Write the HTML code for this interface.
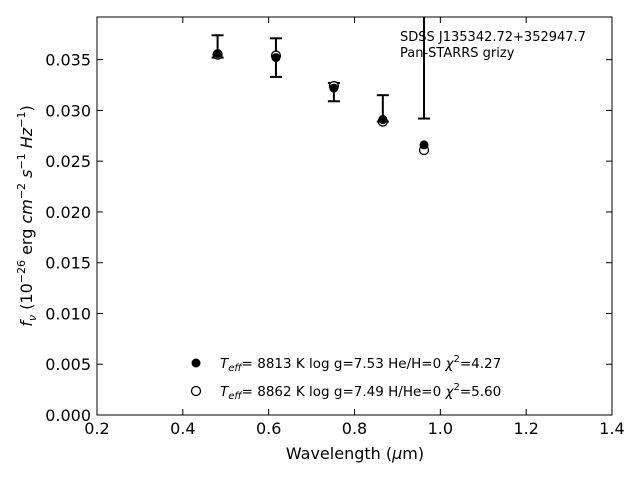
<!DOCTYPE html>
<html><head><meta charset="utf-8"><style>
body{margin:0;background:#fff}
svg{font-family:"DejaVu Sans","Liberation Sans",sans-serif}
</style></head><body>
<svg width="640" height="480" xmlns="http://www.w3.org/2000/svg">
<defs><clipPath id="pc"><rect x="97" y="17" width="515" height="398"/></clipPath></defs>
<rect x="97" y="17" width="515" height="398" fill="none" stroke="#000" stroke-width="1"/>
<g id="axes"></g>
<g id="marks" clip-path="url(#pc)"></g>
<text x="400" y="41" font-size="13">SDSS J135342.72+352947.7</text>
<text x="400" y="57" font-size="13">Pan-STARRS grizy</text>
<circle cx="196" cy="363" r="4.5" fill="#000"/>
<text x="220" y="368" font-size="13.5"><tspan font-style="italic">T</tspan><tspan font-style="italic" font-size="10" dy="3">eff</tspan><tspan dy="-3">=  8813 K  log g=7.53  He/H=0  </tspan><tspan font-style="italic">χ</tspan><tspan font-size="10" dy="-6">2</tspan><tspan dy="6">=4.27</tspan></text>
<circle cx="196" cy="391" r="4.5" fill="#fff" stroke="#000" stroke-width="1.3"/>
<text x="220" y="396" font-size="13.5"><tspan font-style="italic">T</tspan><tspan font-style="italic" font-size="10" dy="3">eff</tspan><tspan dy="-3">=  8862 K  log g=7.49  H/He=0  </tspan><tspan font-style="italic">χ</tspan><tspan font-size="10" dy="-6">2</tspan><tspan dy="6">=5.60</tspan></text>
<text x="355" y="459" font-size="16" text-anchor="middle">Wavelength (<tspan font-style="italic">μ</tspan>m)</text>
<text transform="translate(32,216) rotate(-90)" font-size="16" text-anchor="middle"><tspan font-style="italic">f</tspan><tspan font-style="italic" font-size="11" dy="4">ν</tspan><tspan dy="-4"> (10</tspan><tspan font-size="11" dy="-7">−26</tspan><tspan dy="7"> erg </tspan><tspan font-style="italic">cm</tspan><tspan font-size="11" dy="-7">−2</tspan><tspan dy="7"> </tspan><tspan font-style="italic">s</tspan><tspan font-size="11" dy="-7">−1</tspan><tspan dy="7"> </tspan><tspan font-style="italic">Hz</tspan><tspan font-size="11" dy="-7">−1</tspan><tspan dy="7">)</tspan></text>
</svg>
<script>
const wavelengths=[0.481,0.617,0.752,0.866,0.962];
const obsFlux=[0.0363,0.0352,0.0318,0.0302,0.0400];
const obsErr=[0.0011,0.0019,0.0009,0.0013,0.0108];
const modelHeH=[0.0356,0.0352,0.0322,0.0291,0.0266];
const modelHHe=[0.0355,0.0354,0.0324,0.0289,0.0261];
const xTicks=[0.2,0.4,0.6,0.8,1.0,1.2,1.4];
const yTicks=[0,0.005,0.010,0.015,0.020,0.025,0.030,0.035];
const X=v=>97+(v-0.2)/1.2*515;
const Y=v=>415-v/0.0392*398;
const NS="http://www.w3.org/2000/svg";
function mk(p,t,a){const e=document.createElementNS(NS,t);for(const k in a)e.setAttribute(k,a[k]);p.appendChild(e);return e;}
const ax=document.getElementById('axes'),mg=document.getElementById('marks');
xTicks.forEach(t=>{const x=X(t);
const l1=mk(ax,'line',{x1:x,x2:x,y1:415,y2:409,stroke:'#000'});


const l2=mk(ax,'line',{x1:x,x2:x,y1:17,y2:23,stroke:'#000'});


const tx=mk(ax,'text',{x:x,y:434,'font-size':16,'text-anchor':'middle'});tx.textContent=t.toFixed(1);

});
yTicks.forEach(t=>{const y=Y(t);
const l1=mk(ax,'line',{x1:97,x2:103,y1:y,y2:y,stroke:'#000'});


const l2=mk(ax,'line',{x1:606,x2:612,y1:y,y2:y,stroke:'#000'});


const tx=mk(ax,'text',{x:91,y:y+6,'font-size':16,'text-anchor':'end'});tx.textContent=t.toFixed(3);

});
wavelengths.forEach((w,i)=>{const x=X(w);
const g=mk(mg,'g',{stroke:'#000','stroke-width':2});


const t=Y(obsFlux[i]+obsErr[i]),b=Y(obsFlux[i]-obsErr[i]);
mk(g,'line',{x1:x,x2:x,y1:t,y2:b});mk(g,'line',{x1:x-6,x2:x+6,y1:t,y2:t});mk(g,'line',{x1:x-6,x2:x+6,y1:b,y2:b});
const o=mk(mg,'circle',{cx:x,cy:Y(modelHHe[i]),r:4.5,fill:'#fff',stroke:'#000','stroke-width':1.3});


const f=mk(mg,'circle',{cx:x,cy:Y(modelHeH[i]),r:4.5,fill:'#000'});

});
</script>
</body></html>
